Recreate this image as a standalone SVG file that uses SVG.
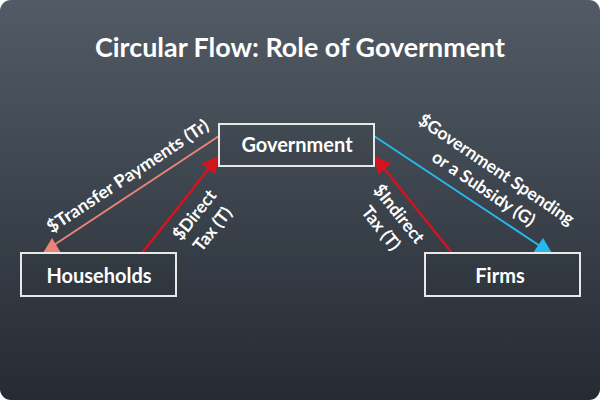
<svg xmlns="http://www.w3.org/2000/svg" width="600" height="400" viewBox="0 0 600 400">
  <defs>
    <linearGradient id="bg" x1="0" y1="0" x2="0" y2="1">
      <stop offset="0" stop-color="#525b65"/>
      <stop offset="1" stop-color="#252b33"/>
    </linearGradient>
    <marker id="redHead" viewBox="0 0 10 10" refX="9" refY="5" markerWidth="7" markerHeight="7" markerUnits="strokeWidth" orient="auto">
      <path d="M0,0 L10,5 L0,10 z" fill="#d3141f"/>
    </marker>
    <style>
      .box { fill: #000; fill-opacity: 0.03; stroke: #e8e8e8; stroke-width: 2; }
      .lbl { font-family: "Lato", "Open Sans", "Liberation Sans", sans-serif; font-weight: bold; fill: #ffffff; }
      .node { font-size: 20px; text-anchor: middle; }
      .conn { font-size: 17.5px; text-anchor: middle; }
      .red { stroke: #d3141f; stroke-width: 2.5; fill: none; marker-end: url(#redHead); }
    </style>
  </defs>
  <rect x="0" y="0" width="600" height="400" fill="#ffffff"/>
  <rect x="0" y="0" width="600" height="400" rx="11" ry="11" fill="url(#bg)"/>
  <text class="lbl" x="300" y="57" font-size="26" text-anchor="middle" textLength="410" lengthAdjust="spacingAndGlyphs">Circular Flow: Role of Government</text>

  <g id="connectors">
    <line x1="219" y1="136" x2="54" y2="245" stroke="#ec8377" stroke-width="2"/>
    <polygon points="43,253 61,253 52,238" fill="#ec8377"/>
    <line x1="374" y1="136" x2="540" y2="246" stroke="#27b8ec" stroke-width="2"/>
    <polygon points="533,253 552,253 543,238" fill="#27b8ec"/>
    <line class="red" x1="142" y1="253" x2="218" y2="157"/>
    <line class="red" x1="452" y1="253" x2="375" y2="157"/>
    <text class="lbl conn" transform="translate(131,181) rotate(-33.5)" textLength="190" lengthAdjust="spacingAndGlyphs">$Transfer Payments (Tr)</text>
    <g transform="translate(203.5,222) rotate(-51.6)">
      <text class="lbl conn" x="0" y="-5.5">$Direct</text>
      <text class="lbl conn" x="0" y="17.5">Tax (T)</text>
    </g>
    <g transform="translate(390,221) rotate(51.3)">
      <text class="lbl conn" x="0" y="-5.5">$Indirect</text>
      <text class="lbl conn" x="0" y="17.5">Tax (T)</text>
    </g>
    <g transform="translate(490,179) rotate(34)">
      <text class="lbl conn" x="0" y="-5.5">$Government Spending</text>
      <text class="lbl conn" x="0" y="17.5">or a Subsidy (G)</text>
    </g>
  </g>

  <g id="government">
    <rect class="box" x="219" y="124" width="155" height="42"/>
    <text class="lbl node" x="297" y="152">Government</text>
  </g>
  <g id="households">
    <rect class="box" x="21" y="253" width="155" height="43"/>
    <text class="lbl node" x="99" y="283">Households</text>
  </g>
  <g id="firms">
    <rect class="box" x="425" y="253" width="155" height="43"/>
    <text class="lbl node" x="500" y="283">Firms</text>
  </g>
</svg>
